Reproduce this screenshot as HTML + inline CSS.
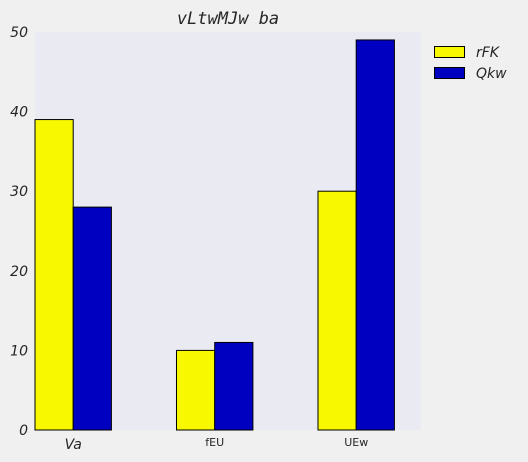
<!DOCTYPE html>
<html><head><meta charset="utf-8"><style>
body{margin:0;background:#f0f0f0;}
svg{display:block;}
text{fill:#262626;}
</style></head><body>
<svg id="chart" width="528" height="462">
<rect width="528" height="462" fill="#f0f0f0"/>
<rect x="35" y="32" width="386" height="398" fill="#eaeaf2"/>
<text x="228" y="24" text-anchor="middle" font-family="'DejaVu Sans Mono','Liberation Mono',monospace" font-style="italic" font-size="17">vLtwMJw ba</text>
<g id="yticks"></g><g id="xticks"></g><g id="bars"></g>
<g>
<g><rect x="434.5" y="46.5" width="30" height="11" fill="#f8f800" stroke="#000"/>
<text x="476" y="57" font-family="'DejaVu Sans',sans-serif" font-style="italic" font-size="14">rFK</text></g>
<g><rect x="434.5" y="67.5" width="30" height="11" fill="#0000c0" stroke="#000"/>
<text x="476" y="78" font-family="'DejaVu Sans',sans-serif" font-style="italic" font-size="14">Qkw</text></g>
</g>
</svg>
<script>
const categories=["Va","fEU","UEw"];
const seriesRFK=[39,10,30];
const seriesQkw=[28,11,49];
const yTicks=[0,10,20,30,40,50];
const NS="http://www.w3.org/2000/svg";
const x0=35,x1=421,y0=430,y1=32,xmin=-0.27,xmax=2.458,ymax=50,bw=0.27;
const sx=v=>x0+(v-xmin)/(xmax-xmin)*(x1-x0);
const sy=v=>y0-v/ymax*(y0-y1);
function mk(t,a,p){const e=document.createElementNS(NS,t);for(const k in a)e.setAttribute(k,a[k]);p.appendChild(e);return e;}
const yt=document.getElementById('yticks');
yTicks.forEach(v=>{const t=mk('text',{x:28,y:sy(v)+5,'text-anchor':'end','font-family':"'DejaVu Sans',sans-serif",'font-style':'italic','font-size':14},yt);t.textContent=v;

});
const xt=document.getElementById('xticks');
categories.forEach((c,i)=>{const first=i===0;const t=mk('text',{x:sx(i),y:first?449:446,'text-anchor':'middle','font-family':"'DejaVu Sans',sans-serif",'font-style':first?'italic':'normal','font-size':first?14:11},xt);t.textContent=c;

});
const bg=document.getElementById('bars');
categories.forEach((c,i)=>{
 const a=mk('rect',{x:sx(i-bw),y:sy(seriesRFK[i]),width:sx(i)-sx(i-bw),height:y0-sy(seriesRFK[i]),fill:'#f8f800',stroke:'#000','stroke-width':1},bg);
 
 
 const b=mk('rect',{x:sx(i),y:sy(seriesQkw[i]),width:sx(i+bw)-sx(i),height:y0-sy(seriesQkw[i]),fill:'#0000c0',stroke:'#000','stroke-width':1},bg);
 
 
});
</script>
</body></html>
